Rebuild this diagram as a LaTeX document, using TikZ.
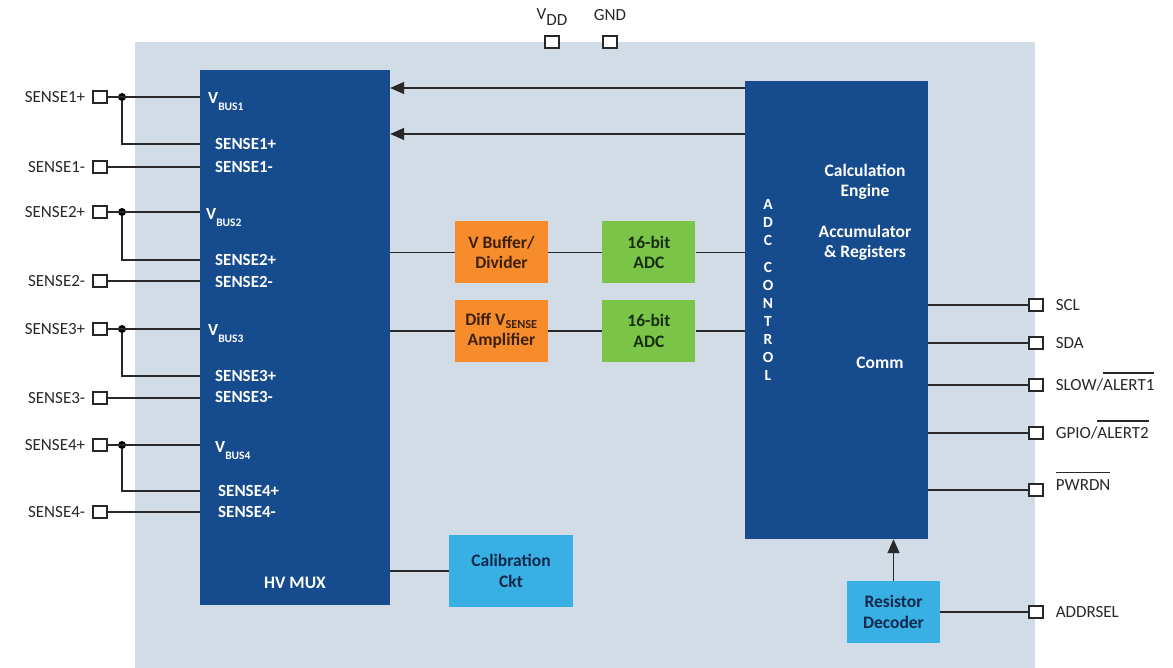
\documentclass[tikz,border=0pt]{standalone}
\usepackage{fontspec}
\setmainfont{Carlito}
\usetikzlibrary{arrows.meta,positioning}
\definecolor{chipbg}{RGB}{210,220,230}
\definecolor{darkblk}{RGB}{22,76,142}
\definecolor{orangeblk}{RGB}{246,140,44}
\definecolor{greenblk}{RGB}{122,196,72}
\definecolor{cyanblk}{RGB}{56,176,228}
\definecolor{wirec}{RGB}{40,40,40}
\newcommand{\ovl}[1]{\smash{\vbox{\hrule height 1.2pt\kern 6pt\hbox{#1}}}}

\begin{document}
\begin{tikzpicture}[x=1pt, y=-1pt,
    node distance=16pt,
    blk/.style={inner sep=0pt, align=center,
      font=\fontsize{17.5}{20.5}\selectfont\bfseries},
    big/.style={blk, fill=darkblk, text=white},
    sig/.style={blk, minimum width=93pt, minimum height=62pt},
    pin/.style={draw=wirec, fill=white, line width=1.3pt,
      minimum width=14pt, minimum height=12pt, inner sep=0pt},
    plab/.style={font=\fontsize{17}{20}\selectfont, text=wirec, inner sep=0pt},
    ilab/.style={font=\fontsize{17}{20}\selectfont\bfseries, text=white,
      inner sep=0pt, anchor=west},
    ln/.style={draw=wirec, line width=1.5pt},
    arr/.style={ln, -{Triangle[length=14pt, width=12pt]}},
    jdot/.style={circle, fill=black, inner sep=0pt, minimum size=8pt}
  ]
  \fill[white] (0,0) rectangle (1173,668);
  \useasboundingbox (0,0) rectangle (1173,668);
  \fill[chipbg] (135,42) rectangle (1035,668);

  % main blocks
  \node[big, minimum width=190pt, minimum height=535pt] (mux) at (295,337.5) {};
  \node[big] (muxt) at (295,583) {HV MUX};
  \node[big, minimum width=183pt, minimum height=458pt] (ctrl) at (836.5,310) {};
  \node[big] (calc) at (865,182) {Calculation\\Engine};
  \node[big] (acc) at (865,243) {Accumulator\\\& Registers};
  \node[big] (comm) at (880,363) {Comm};
  \node[big, font=\fontsize{15.5}{18}\selectfont\bfseries] (adcc) at (768,290)
    {A\\D\\C\\[9pt]C\\O\\N\\T\\R\\O\\L};

  \node[sig, fill=orangeblk, text={rgb,255:red,60;green,32;blue,10}] (buf) at (501.5,252.5) {V Buffer/\\Divider};
  \node[sig, fill=greenblk, text={rgb,255:red,25;green,45;blue,15}, right=54pt of buf] (adca) {16-bit\\ADC};
  \node[sig, fill=orangeblk, text={rgb,255:red,60;green,32;blue,10}, below=of buf] (amp) {Diff V\textsubscript{SENSE}\\Amplifier};
  \node[sig, fill=greenblk, text={rgb,255:red,25;green,45;blue,15}, right=54pt of amp] (adcb) {16-bit\\ADC};
  \node[blk, fill=cyanblk, text={rgb,255:red,15;green,40;blue,75}, minimum width=124pt, minimum height=72pt] (cal) at (511,571) {Calibration\\Ckt};
  \node[sig, fill=cyanblk, text={rgb,255:red,15;green,40;blue,75}] (dec) at (893.5,612) {Resistor\\Decoder};

  \draw[ln] (buf -| mux.east) -- (buf);
  \draw[ln] (buf) -- (adca);
  \draw[ln] (adca) -- (adca -| ctrl.west);
  \draw[ln] (amp -| mux.east) -- (amp);
  \draw[ln] (amp) -- (adcb);
  \draw[ln] (adcb) -- (adcb -| ctrl.west);
  \draw[ln] (cal -| mux.east) -- (cal);
  \coordinate (ca) at (745,88);
  \coordinate (cb) at (745,134);
  \draw[arr] (ca) -- (ca -| mux.east);
  \draw[arr] (cb) -- (cb -| mux.east);
  \draw[arr] (dec) -- (dec |- ctrl.south);

  % supply pins
  \node[pin] (vdd) at (552,42) {};
  \node[pin] (gnd) at (610,42) {};
  \node[plab, above=10pt of vdd] (vddt) {V\raisebox{-6pt}{DD}};
  \node[plab, above=15pt of gnd] (gndt) {GND};

  % sense inputs
  \node[pin] (s1p) at (100,97) {};
  \node[pin] (s1m) at (100,167) {};
  \node[pin] (s2p) at (100,212) {};
  \node[pin] (s2m) at (100,281) {};
  \node[pin] (s3p) at (100,329) {};
  \node[pin] (s3m) at (100,398) {};
  \node[pin] (s4p) at (100,445) {};
  \node[pin] (s4m) at (100,512) {};
  \node[plab, left=7pt of s1p] (t1p) {SENSE1+};
  \node[plab, left=7pt of s1m] (t1m) {SENSE1-};
  \node[plab, left=7pt of s2p] (t2p) {SENSE2+};
  \node[plab, left=7pt of s2m] (t2m) {SENSE2-};
  \node[plab, left=7pt of s3p] (t3p) {SENSE3+};
  \node[plab, left=7pt of s3m] (t3m) {SENSE3-};
  \node[plab, left=7pt of s4p] (t4p) {SENSE4+};
  \node[plab, left=7pt of s4m] (t4m) {SENSE4-};

  \node[ilab] (i1v) at (208,102) {V\raisebox{-7pt}{\fontsize{11.5}{12}\selectfont BUS1}};
  \node[ilab] (i1p) at (215,144) {SENSE1+};
  \node[ilab] (i1m) at (215,167) {SENSE1-};
  \node[ilab] (i2v) at (206,218) {V\raisebox{-7pt}{\fontsize{11.5}{12}\selectfont BUS2}};
  \node[ilab] (i2p) at (215,260) {SENSE2+};
  \node[ilab] (i2m) at (215,282) {SENSE2-};
  \node[ilab] (i3v) at (208,334) {V\raisebox{-7pt}{\fontsize{11.5}{12}\selectfont BUS3}};
  \node[ilab] (i3p) at (215,376) {SENSE3+};
  \node[ilab] (i3m) at (215,397) {SENSE3-};
  \node[ilab] (i4v) at (215,451) {V\raisebox{-7pt}{\fontsize{11.5}{12}\selectfont BUS4}};
  \node[ilab] (i4p) at (218,491) {SENSE4+};
  \node[ilab] (i4m) at (218,512) {SENSE4-};

  \node[jdot] (d1) at (122,97) {};
  \node[jdot] (d2) at (122,212) {};
  \node[jdot] (d3) at (122,329) {};
  \node[jdot] (d4) at (122,445) {};
  \draw[ln] (s1p) -- (s1p -| mux.west);
  \draw[ln] (d1) |- (mux.west |- i1p);
  \draw[ln] (s1m) -- (s1m -| mux.west);
  \draw[ln] (s2p) -- (s2p -| mux.west);
  \draw[ln] (d2) |- (mux.west |- i2p);
  \draw[ln] (s2m) -- (s2m -| mux.west);
  \draw[ln] (s3p) -- (s3p -| mux.west);
  \draw[ln] (d3) |- (mux.west |- i3p);
  \draw[ln] (s3m) -- (s3m -| mux.west);
  \draw[ln] (s4p) -- (s4p -| mux.west);
  \draw[ln] (d4) |- (mux.west |- i4p);
  \draw[ln] (s4m) -- (s4m -| mux.west);

  % interface pins
  \node[pin] (scl) at (1036,305) {};
  \node[pin] (sda) at (1036,343) {};
  \node[pin] (slow) at (1036,385) {};
  \node[pin] (gpio) at (1036,433) {};
  \node[pin] (pwr) at (1036,490) {};
  \node[pin] (addr) at (1036,612) {};
  \node[plab, right=12pt of scl] (tscl) {SCL};
  \node[plab, right=12pt of sda] (tsda) {SDA};
  \node[plab, right=12pt of slow] (tslow) {SLOW/\ovl{ALERT1}};
  \node[plab, right=12pt of gpio] (tgpio) {GPIO/\ovl{ALERT2}};
  \node[plab, right=12pt of pwr] (tpwr) {\ovl{PWRDN}};
  \node[plab, right=12pt of addr] (taddr) {ADDRSEL};
  \draw[ln] (scl -| ctrl.east) -- (scl);
  \draw[ln] (sda -| ctrl.east) -- (sda);
  \draw[ln] (slow -| ctrl.east) -- (slow);
  \draw[ln] (gpio -| ctrl.east) -- (gpio);
  \draw[ln] (pwr -| ctrl.east) -- (pwr);
  \draw[ln] (dec) -- (addr);
\end{tikzpicture}
\end{document}
